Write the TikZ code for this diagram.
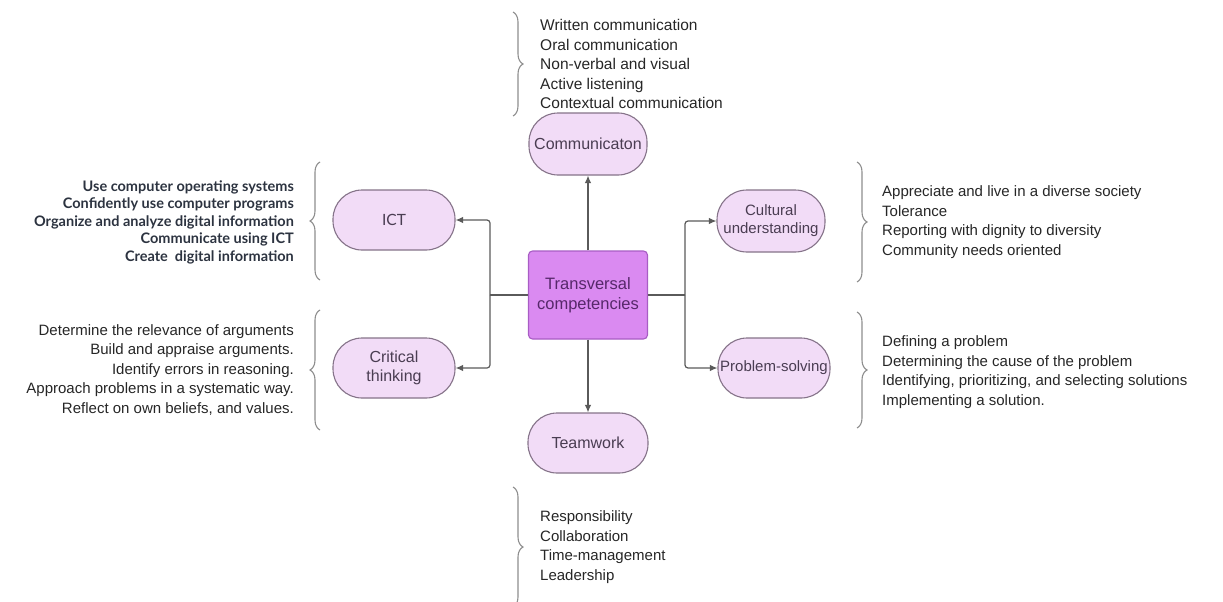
\documentclass[tikz,border=0pt]{standalone}
\usepackage{fontspec}
\setmainfont{Liberation Sans}
\newfontfamily\latofont{Lato}
\usetikzlibrary{arrows.meta,decorations.pathreplacing}
\definecolor{pillfill}{HTML}{F2DCF7}
\definecolor{pilldraw}{HTML}{857389}
\definecolor{corefill}{HTML}{DA8AF1}
\definecolor{coredraw}{HTML}{A85DC4}
\definecolor{coretext}{HTML}{56286A}
\definecolor{pilltext}{HTML}{4A3D52}
\definecolor{linkgrey}{HTML}{5A5A5A}
\definecolor{bracegrey}{HTML}{8E8E8E}
\definecolor{listtext}{HTML}{262626}
\definecolor{icttext}{HTML}{2C3340}
\begin{document}
\begin{tikzpicture}[x=1pt,y=1pt,
  pill/.style={draw=pilldraw,fill=pillfill,line width=1.1pt,rounded corners=29pt,
    minimum width=120pt,minimum height=60pt,inner sep=0pt,align=center,
    text=pilltext,font=\fontsize{16}{19}\selectfont},
  core/.style={draw=coredraw,fill=corefill,line width=1.1pt,rounded corners=4pt,
    minimum width=119pt,minimum height=88pt,inner sep=0pt,align=center,
    text=coretext,font=\fontsize{16.5}{20}\selectfont},
  link/.style={draw=linkgrey,line width=1.2pt,rounded corners=3pt},
  arr/.style={link,-{Latex[length=7.5pt,width=6.5pt]}},
  curly/.style={draw=bracegrey,line width=1.1pt,decorate,
    decoration={brace,amplitude=10pt,aspect=0.5}},
  listtxt/.style={inner sep=0pt,text=listtext,font=\fontsize{15}{19.5}\selectfont},
]
\useasboundingbox (0,0) rectangle (1223,-602);

% hub and competency nodes
\node[core] (core) at (588,-295) {Transversal\\competencies};
\node[pill,minimum width=118pt,minimum height=62pt] (comm) at (588,-144) {Communicaton};
\node[pill,minimum width=122pt,font=\latofont\fontsize{15.5}{18}\selectfont] (ict) at (394,-220) {ICT};
\node[pill,minimum width=108pt,minimum height=62pt,rounded corners=30pt,
  font=\fontsize{15}{18}\selectfont] (cult) at (771,-221) {Cultural\\understanding};
\node[pill,minimum width=122pt] (crit) at (394,-368) {Critical\\thinking};
\node[pill,minimum width=112pt,font=\fontsize{15}{18}\selectfont] (prob) at (774,-368) {Problem-solving};
\node[pill,minimum width=120pt] (team) at (588,-443) {Teamwork};

% junction points of the side connectors
\coordinate (lj) at (490,-295);
\coordinate (rj) at (685,-295);

% connectors
\draw[arr] (core.north) -- (comm.south);
\draw[arr] (core.south) -- (team.north);
\draw[link] (core.west) -- (lj);
\draw[arr] (lj) |- (ict.east);
\draw[arr] (lj) |- (crit.east);
\draw[link] (core.east) -- (rj);
\draw[arr] (rj) |- (cult.west);
\draw[arr] (rj) |- (prob.west);

% braces
\coordinate (b1a) at (513,-12);  \coordinate (b1b) at (513,-116);
\coordinate (b2a) at (320,-280); \coordinate (b2b) at (320,-162);
\coordinate (b3a) at (320,-430); \coordinate (b3b) at (320,-310);
\coordinate (b4a) at (857,-162); \coordinate (b4b) at (857,-282);
\coordinate (b5a) at (857,-312); \coordinate (b5b) at (857,-428);
\coordinate (b6a) at (513,-487); \coordinate (b6b) at (513,-607);
\draw[curly] (b1a) -- (b1b);
\draw[curly] (b2a) -- (b2b);
\draw[curly] (b3a) -- (b3b);
\draw[curly] (b4a) -- (b4b);
\draw[curly] (b5a) -- (b5b);
\draw[curly] (b6a) -- (b6b);

% lists of skills
\node[listtxt,anchor=west,align=left,font=\fontsize{15.5}{19.5}\selectfont] (commlist) at (540,-64)
  {Written communication\\Oral communication\\Non-verbal and visual\\Active listening\\Contextual communication};
\node[listtxt,anchor=east,align=right,text=icttext,
  font=\latofont\bfseries\fontsize{14.5}{17.5}\selectfont] (ictlist) at (294,-222)
  {Use computer operating systems\\Confidently use computer programs\\Organize and analyze digital information\\Communicate using ICT\\Create\ \ digital information};
\node[listtxt,anchor=east,align=right] (critlist) at (294,-370)
  {Determine the relevance of arguments\\Build and appraise arguments.\\Identify errors in reasoning.\\Approach problems in a systematic way.\\Reflect on own beliefs, and values.};
\node[listtxt,anchor=west,align=left] (cultlist) at (882,-222)
  {Appreciate and live in a diverse society\\Tolerance\\Reporting with dignity to diversity\\Community needs oriented};
\node[listtxt,anchor=west,align=left] (problist) at (882,-372)
  {Defining a problem\\Determining the cause of the problem\\Identifying, prioritizing, and selecting solutions\\Implementing a solution.};
\node[listtxt,anchor=west,align=left] (teamlist) at (540,-547)
  {Responsibility\\Collaboration\\Time-management\\Leadership};
\end{tikzpicture}
\end{document}
